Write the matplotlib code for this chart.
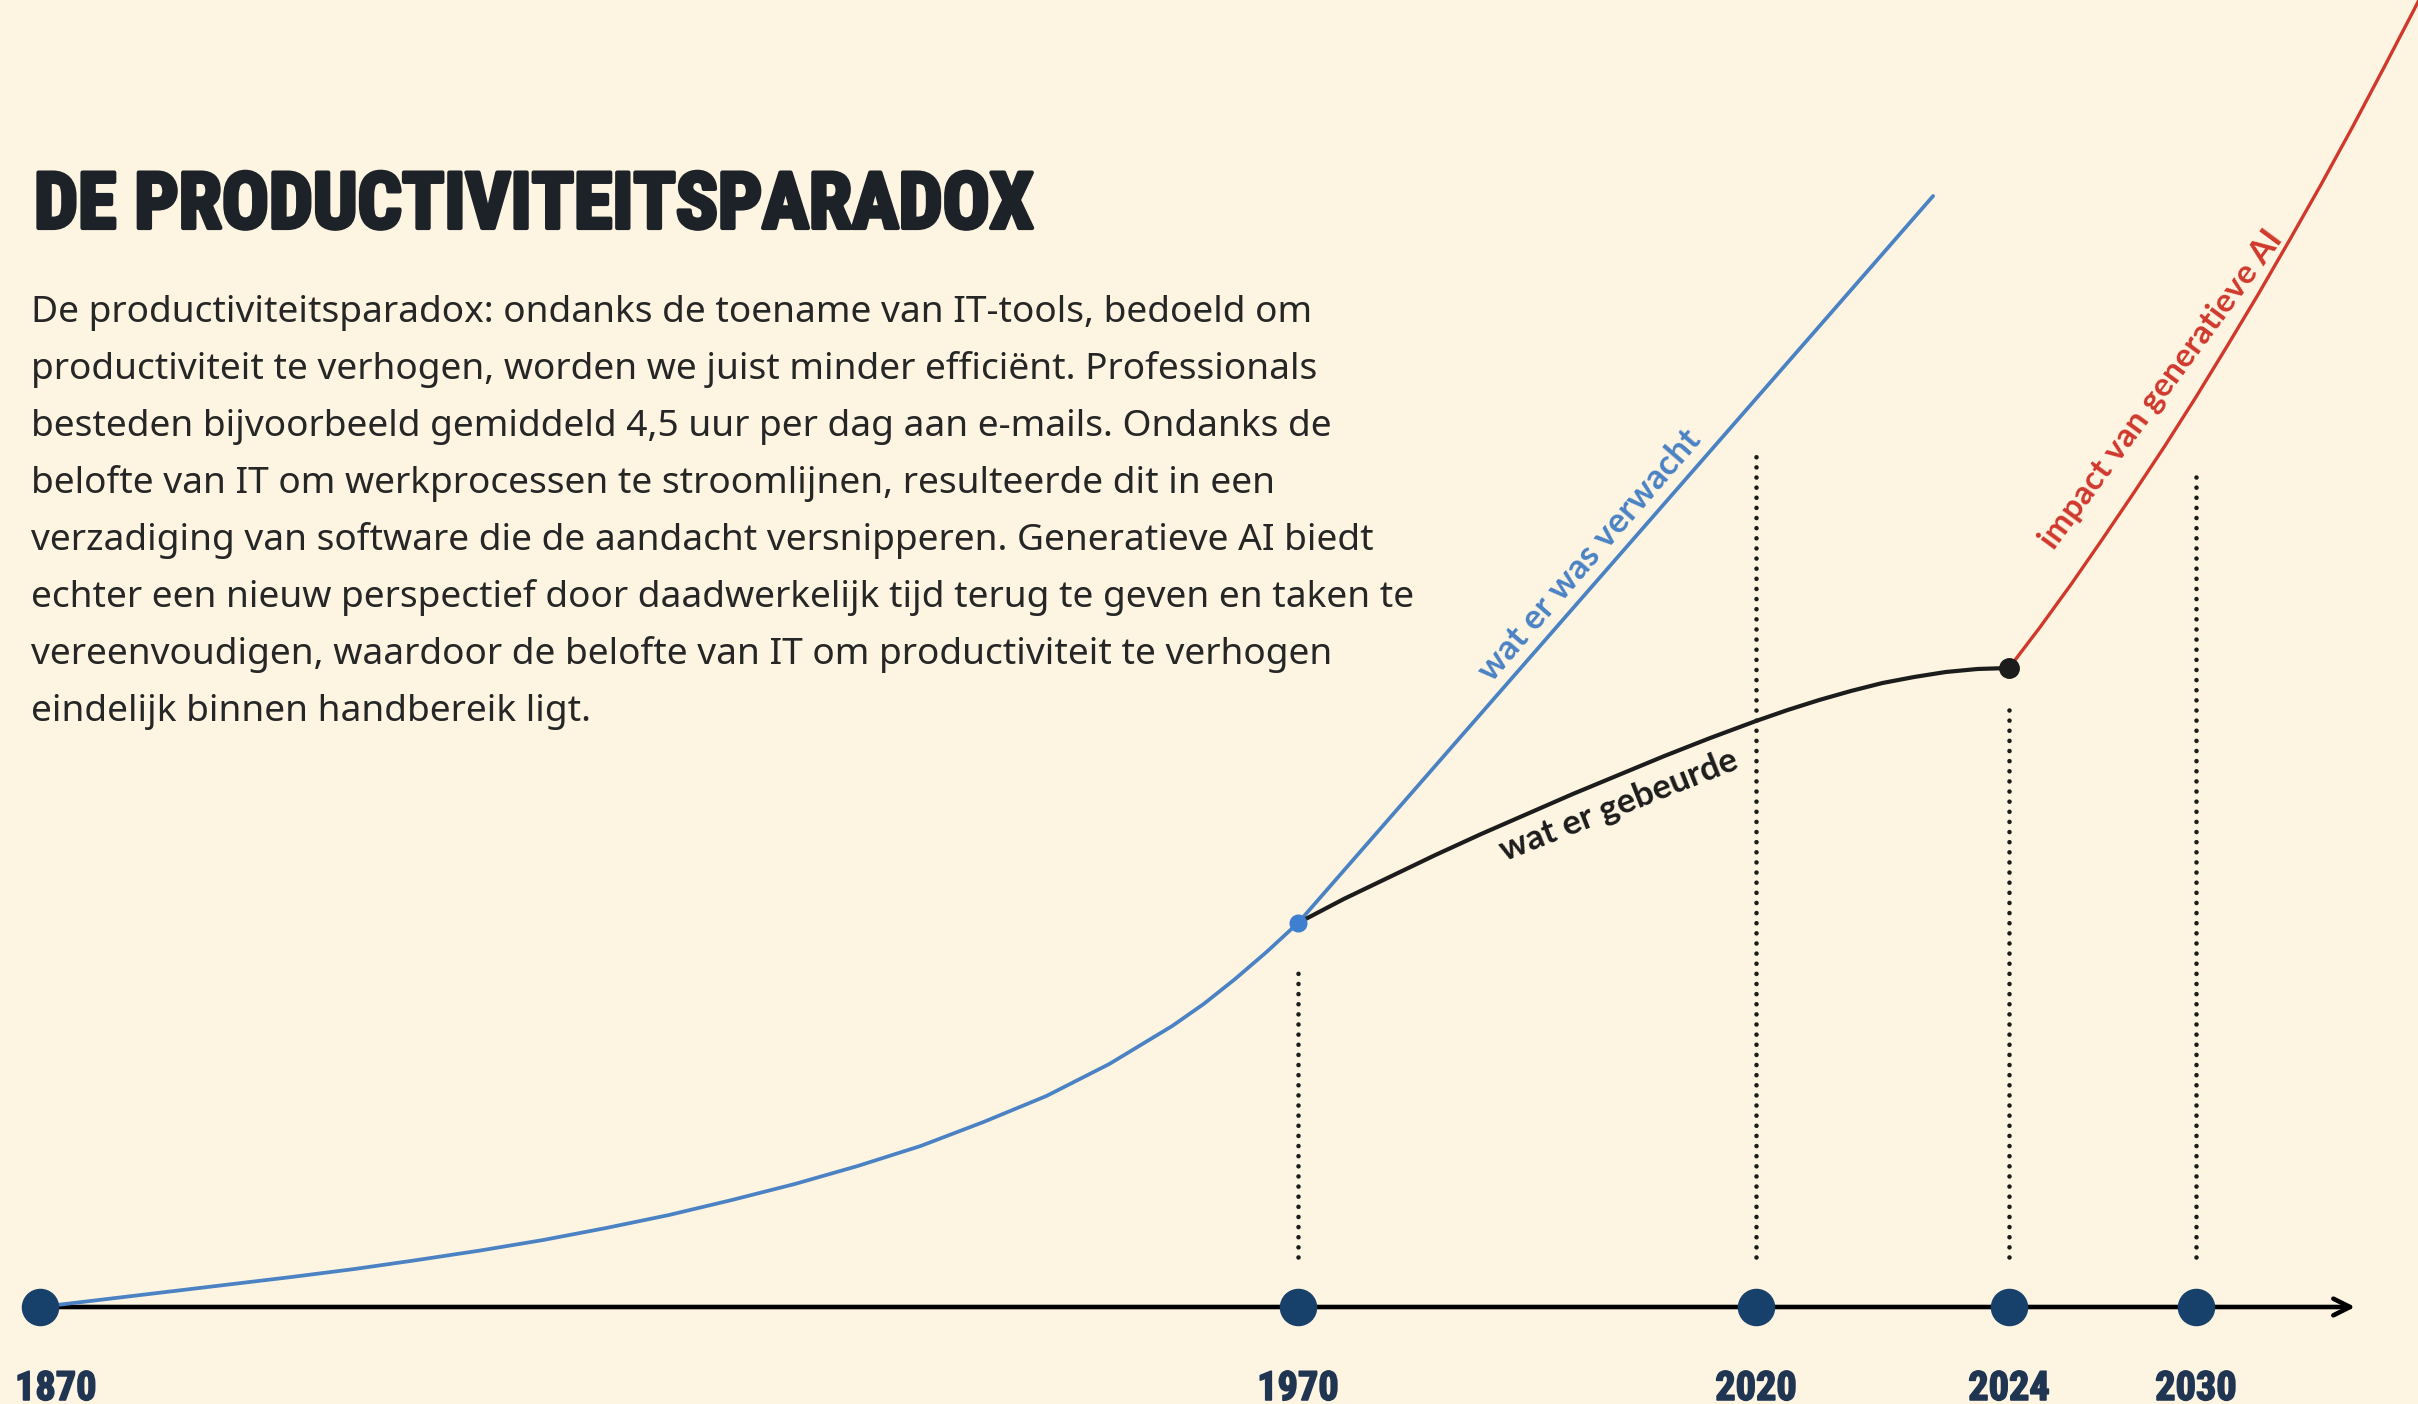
import numpy as np
import matplotlib

matplotlib.use("Agg")
import matplotlib.pyplot as plt
import matplotlib.patheffects as pe

# ---- data ----
milestone_years = [1870, 1970, 2020, 2024, 2030]
milestone_labels = ["1870", "1970", "2020", "2024", "2030"]

# slow growth up to 1970
growth_years = [1870, 1875, 1880, 1885, 1890, 1895, 1900, 1905, 1910, 1915, 1920, 1925,
                1930, 1935, 1940, 1945, 1950, 1955, 1960, 1962.5, 1965, 1967.5, 1970]
growth_values = [0, 0.75, 1.5, 2.25, 3.0, 3.8, 4.7, 5.65, 6.7, 7.9, 9.2, 10.7,
                 12.3, 14.1, 16.1, 18.5, 21.1, 24.3, 28.1, 30.3, 32.8, 35.5, 38.4]

# "wat er was verwacht"
expected_years = [1970, 2022.8]
expected_values = [38.4, 111.1]

# "wat er gebeurde"
actual_years = [1970, 1975, 1980, 1985, 1990, 2000, 2010, 2015, 2020, 2020.5, 2021, 2021.5,
                2022, 2022.5, 2023, 2023.5, 2024]
actual_values = [38.4, 40.8, 43.0, 45.2, 47.3, 51.3, 55.1, 56.9, 58.6, 59.7, 60.7, 61.6,
                 62.4, 63.0, 63.5, 63.8, 63.9]

# "impact van generatieve AI"
genai_years = [2024, 2025, 2026, 2027, 2028, 2029, 2030, 2031, 2032, 2033, 2034, 2035, 2036, 2037, 2038]
genai_values = [63.9, 68.0, 72.3, 76.8, 81.4, 86.1, 91.0, 96.1, 101.3, 106.7, 112.2, 117.9, 123.8, 129.8, 136.0]

# dotted guides above the milestones
guide_years = [1970, 2020, 2024, 2030]
guide_tops = [33.9, 86.0, 59.8, 83.7]

title = "DE PRODUCTIVITEITSPARADOX"
body_lines = [
    "De productiviteitsparadox: ondanks de toename van IT-tools, bedoeld om",
    "productiviteit te verhogen, worden we juist minder efficiënt. Professionals",
    "besteden bijvoorbeeld gemiddeld 4,5 uur per dag aan e-mails. Ondanks de",
    "belofte van IT om werkprocessen te stroomlijnen, resulteerde dit in een",
    "verzadiging van software die de aandacht versnipperen. Generatieve AI biedt",
    "echter een nieuw perspectief door daadwerkelijk tijd terug te geven en taken te",
    "vereenvoudigen, waardoor de belofte van IT om productiviteit te verhogen",
    "eindelijk binnen handbereik ligt.",
]

# ---- styling ----
BG = "#fdf5e2"
NAVY = "#17406b"
BLUE = "#4a82c4"
RED = "#d0382c"
INK = "#1c1c1c"
CONDENSED = ["Roboto Condensed", "DejaVu Sans"]
BODY = ["Noto Sans", "DejaVu Sans"]
LABEL = ["Lato", "DejaVu Sans"]

# the timeline is not linear in years: piecewise scale
tl_years = [1860, 1870, 1970, 2020, 2024, 2030, 2045]
tl_pos = [-86, 40, 1298, 1756, 2009, 2196, 2664]


def forward(x):
    return np.interp(x, tl_years, tl_pos)


def inverse(p):
    return np.interp(p, tl_pos, tl_years)


W, H = 2418, 1404
fig = plt.figure(figsize=(W / 100, H / 100), dpi=100, facecolor=BG)
ax = fig.add_axes([0, 0, 1, 1])
ax.set_facecolor(BG)
ax.set_xscale("function", functions=(forward, inverse))
ax.set_xlim(inverse(0), inverse(W))
ax.set_ylim(-9.7, 130.7)
ax.axis("off")

# time axis with arrow
ax.annotate("", xy=(2035.1, 0), xytext=(1870, 0),
            arrowprops=dict(arrowstyle="->", lw=3.3, color="black",
                            mutation_scale=30, shrinkA=0, shrinkB=0), zorder=2)

# dotted guides
ax.vlines(guide_years, 5.0, guide_tops, colors=INK, lw=3.3,
          linestyles=[(0, (0.01, 2.2))], capstyle="round", zorder=1)

# curves
ax.plot(growth_years, growth_values, color=BLUE, lw=2.7, zorder=3, solid_joinstyle="round")
ax.plot(expected_years, expected_values, color=BLUE, lw=2.7, zorder=3, solid_capstyle="round")
ax.plot(actual_years, actual_values, color=INK, lw=3.0, zorder=3, solid_joinstyle="round")
ax.plot(genai_years, genai_values, color=RED, lw=2.4, zorder=3, solid_joinstyle="round")

ax.plot([1970], [38.4], "o", color="#3f7fcf", ms=12, zorder=4)
ax.plot([2024], [63.9], "o", color=INK, ms=14, zorder=4)

# milestones
ax.plot(milestone_years, [0] * len(milestone_years), "o", color=NAVY, ms=26, zorder=5)
for i, (yr, lab) in enumerate(zip(milestone_years, milestone_labels)):
    first = i == 0
    ax.annotate(lab, (yr, 0), xytext=(-18 if first else 0, -59), textcoords="offset points",
                ha="left" if first else "center", va="center", fontsize=29,
                fontweight="bold", family=CONDENSED, color="#1f3552",
                path_effects=[pe.withStroke(linewidth=1.2, foreground="#1f3552")])

# curve labels
ax.text(2001.9, 75.2, "wat er was verwacht", rotation=49, rotation_mode="anchor",
        ha="center", va="center", fontsize=25, fontweight="bold", family=LABEL, color=BLUE)
ax.text(2005.0, 50.1, "wat er gebeurde", rotation=21.6, rotation_mode="anchor",
        ha="center", va="center", fontsize=25, fontweight="bold", family=LABEL, color=INK)
ax.text(2028.9, 91.7, "impact van generatieve AI", rotation=53.6, rotation_mode="anchor",
        ha="center", va="center", fontsize=24, fontweight="bold", family=LABEL, color=RED)

# title and body text, sized to the reference widths
title_txt = fig.text(34 / W, 1 - 228 / H, title, ha="left", va="baseline", fontsize=60,
                     fontweight="bold", family=CONDENSED, color="#1c2228",
                     path_effects=[pe.withStroke(linewidth=3, foreground="#1c2228")])
body_txts = []
for i, line in enumerate(body_lines):
    body_txts.append(fig.text(31 / W, 1 - (322 + 57 * i) / H, line, ha="left",
                              va="baseline", fontsize=22, family=BODY, color="#262626"))

fig.canvas.draw()
renderer = fig.canvas.get_renderer()
tw = title_txt.get_window_extent(renderer).width
title_txt.set_fontsize(60 * 1000 / tw)
bw = body_txts[5].get_window_extent(renderer).width
for t in body_txts:
    t.set_fontsize(22 * 1385 / bw)

fig.savefig("out.png", dpi=100, facecolor=BG)
